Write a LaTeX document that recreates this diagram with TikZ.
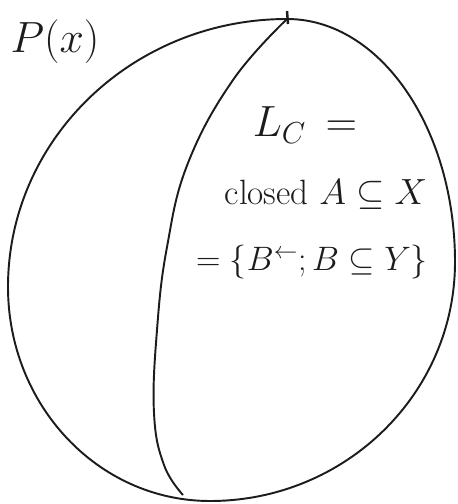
\documentclass[tikz,border=0pt]{standalone}
\usepackage{tikz}
\usepackage{graphicx}
\usepackage{xcolor}
\definecolor{penink}{HTML}{1C1C1C}

\begin{document}
\begin{tikzpicture}[x=0.02cm,y=-0.02cm]
  \useasboundingbox (0,0) rectangle (457,504);

  % outer blob
  \draw[penink,line width=1.1pt] (287,19)
    .. controls (380,19) and (455,128) .. (455,262)
    .. controls (455,394) and (345,501) .. (210,501)
    .. controls (98,501) and (8,405) .. (8,287)
    .. controls (8,139) and (133,19) .. cycle;

  % dividing curve
  \draw[penink,line width=1.1pt] plot[smooth,tension=0.7] coordinates {
    (287,19) (233,80) (188,163) (167,247) (157,330) (154,413) (164,465) (183,495)};
  \draw[penink,line width=1.4pt] (287,11) -- (288,24);

  \node[penink] (ptx) at (55,42) {\fontsize{24}{28}\selectfont $P(x)$};
  \node[penink] (lc) at (305,125) {\fontsize{26}{30}\selectfont $L_C\,=$};
  \node[penink] (cls) at (326,195) {\fontsize{20}{24}\selectfont closed $A\subseteq X$};
  \node[penink] (setb) at (312,262) {\scalebox{0.93}{\fontsize{20}{24}\selectfont $=\{B^{\leftarrow};B\subseteq Y\}$}};
\end{tikzpicture}
\end{document}
